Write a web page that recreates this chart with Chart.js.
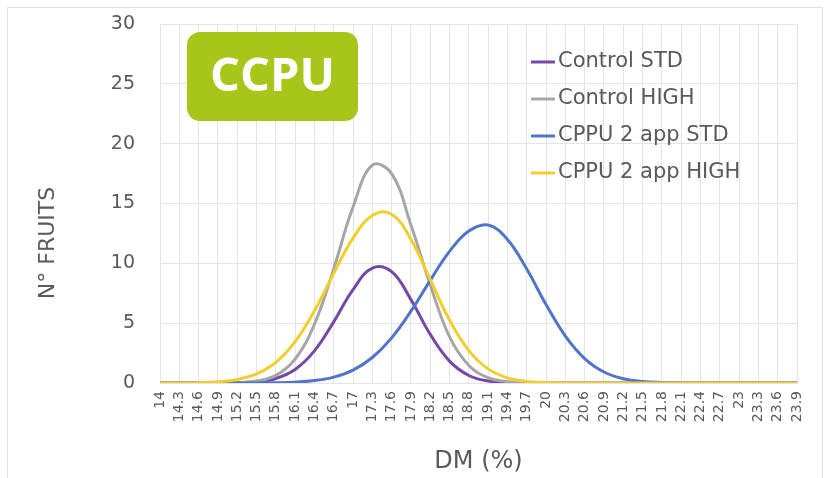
<!DOCTYPE html>
<html>
<head>
<meta charset="utf-8">
<script src="https://cdn.jsdelivr.net/npm/chart.js@4.4.1/dist/chart.umd.min.js"></script>
<style>
  html, body { margin: 0; padding: 0; background: #fff; }
  #wrap { width: 830px; height: 478px; }
</style>
</head>
<body>
<div id="wrap"><canvas id="chart" width="830" height="478"></canvas></div>
<script>
// DM (%) categories on the x axis
const dmLabels = ['14', '14.3', '14.6', '14.9', '15.2', '15.5', '15.8', '16.1', '16.4', '16.7',
  '17', '17.3', '17.6', '17.9', '18.2', '18.5', '18.8', '19.1', '19.4', '19.7',
  '20', '20.3', '20.6', '20.9', '21.2', '21.5', '21.8', '22.1', '22.4', '22.7',
  '23', '23.3', '23.6', '23.9']

// N° fruits per class
const controlStd = [0, 0, 0, 0, 0.02, 0.1, 0.38, 1.13, 2.68, 5.11, 7.8, 9.6, 9.3, 6.97, 4.06, 1.83, 0.63, 0.17, 0.04, 0.01,
  0, 0, 0, 0, 0, 0, 0, 0, 0, 0, 0, 0, 0, 0]
const controlHigh = [0, 0, 0, 0, 0.03, 0.16, 0.64, 2, 4.91, 9.56, 14.7, 18.2, 17.5, 13.2, 8.2, 3.85, 1.46, 0.44, 0.1, 0.02,
  0, 0, 0, 0, 0, 0, 0, 0, 0, 0, 0, 0, 0, 0]
const cppuStd = [0, 0, 0, 0, 0, 0.01, 0.02, 0.07, 0.2, 0.49, 1.08, 2.13, 3.77, 6, 8.58, 11, 12.7, 13.2, 12, 9.52,
  6.55, 3.92, 2.04, 0.92, 0.36, 0.12, 0.04, 0.01, 0, 0, 0, 0, 0, 0]
const cppuHigh = [0, 0, 0.03, 0.1, 0.29, 0.76, 1.73, 3.46, 6.03, 9.16, 12.1, 14, 14.1, 12, 8.64, 5.26, 2.71, 1.18, 0.43, 0.13,
  0.04, 0.01, 0, 0, 0, 0, 0, 0, 0, 0, 0, 0, 0, 0]

const seriesNames = ['Control STD', 'Control HIGH', 'CPPU 2 app STD', 'CPPU 2 app HIGH']
const seriesColors = ['#7448a8', '#a6a6a6', '#4f74c8', '#f2cd2c']
const yTicks = [0, 5, 10, 15, 20, 25, 30]

const textColor = '#595959'
const gridColor = '#e4e4e4'
const fontFamily = "'DejaVu Sans', sans-serif"

// white page with the thin frame round it
const framePlugin = {
    id: 'frame',
    beforeDraw(chart) {
        const ctx = chart.ctx
        ctx.save()
        ctx.fillStyle = '#fff'
        ctx.fillRect(0, 0, chart.width, chart.height)
        ctx.strokeStyle = '#e2e2e2'
        ctx.lineWidth = 1
        ctx.strokeRect(7.5, 7.5, 815, 480)
        ctx.restore()
    }
}

// green CCPU badge, y axis title and the legend drawn inside the plot
const overlayPlugin = {
    id: 'overlay',
    afterDraw(chart) {
        const ctx = chart.ctx
        ctx.save()

        // badge
        const bx = 187, by = 32, bw = 171, bh = 89, r = 13
        ctx.fillStyle = '#a7c61a'
        ctx.beginPath()
        ctx.moveTo(bx + r, by)
        ctx.arcTo(bx + bw, by, bx + bw, by + bh, r)
        ctx.arcTo(bx + bw, by + bh, bx, by + bh, r)
        ctx.arcTo(bx, by + bh, bx, by, r)
        ctx.arcTo(bx, by, bx + bw, by, r)
        ctx.closePath()
        ctx.fill()
        ctx.fillStyle = '#fff'
        ctx.font = "bold 47px 'Open Sans', sans-serif"
        ctx.textAlign = 'center'
        ctx.textBaseline = 'middle'
        ctx.fillText('CCPU', bx + bw / 2, by + bh / 2 + 1)

        // y title
        ctx.save()
        ctx.translate(48, 243)
        ctx.rotate(-Math.PI / 2)
        ctx.fillStyle = textColor
        ctx.font = '22px ' + fontFamily
        ctx.fillText('N° FRUITS', 0, 0)
        ctx.restore()

        // legend
        ctx.font = '21px ' + fontFamily
        ctx.textAlign = 'left'
        chart.data.datasets.forEach((ds, i) => {
            const y = 62 + i * 37
            ctx.strokeStyle = ds.borderColor
            ctx.lineWidth = 3
            ctx.beginPath()
            ctx.moveTo(531, y)
            ctx.lineTo(555, y)
            ctx.stroke()
            ctx.fillStyle = textColor
            ctx.fillText(ds.label, 558, y)
        })
        ctx.restore()
    }
}

const seriesData = [controlStd, controlHigh, cppuStd, cppuHigh]

new Chart(document.getElementById('chart'), {
    type: 'line',
    data: {
        labels: dmLabels,
        datasets: seriesNames.map((name, i) => ({
            label: name,
            data: seriesData[i],
            borderColor: seriesColors[i],
            backgroundColor: seriesColors[i],
            borderWidth: 3,
            pointRadius: 0,
            tension: 0.4,
            fill: false,
            order: 4 - i
        }))
    },
    options: {
        responsive: false,
        animation: false,
        layout: { padding: { left: 0, right: 33, top: 24, bottom: 0 } },
        plugins: {
            legend: { display: false },
            tooltip: { enabled: false }
        },
        scales: {
            x: {
                offset: false,
                grid: { color: gridColor, drawTicks: false },
                border: { color: gridColor },
                ticks: {
                    autoSkip: false,
                    maxRotation: 90,
                    minRotation: 90,
                    padding: 8,
                    color: textColor,
                    font: { family: fontFamily, size: 14 }
                },
                title: {
                    display: true,
                    text: 'DM (%)',
                    color: textColor,
                    font: { family: fontFamily, size: 24 },
                    padding: { top: 0, bottom: 2 }
                },
                afterFit(scale) { scale.height = 95 }
            },
            y: {
                min: 0,
                max: 30,
                afterBuildTicks(scale) { scale.ticks = yTicks.map(v => ({ value: v })) },
                grid: { color: gridColor, drawTicks: false },
                border: { display: false },
                ticks: {
                    padding: 25,
                    color: textColor,
                    font: { family: fontFamily, size: 19 }
                },
                afterFit(scale) {
                    scale.width = 160
                    // tick padding must not push the plot down
                    scale.paddingTop = 0
                    scale.paddingBottom = 0
                }
            }
        }
    },
    plugins: [framePlugin, overlayPlugin]
})
</script>
</body>
</html>
